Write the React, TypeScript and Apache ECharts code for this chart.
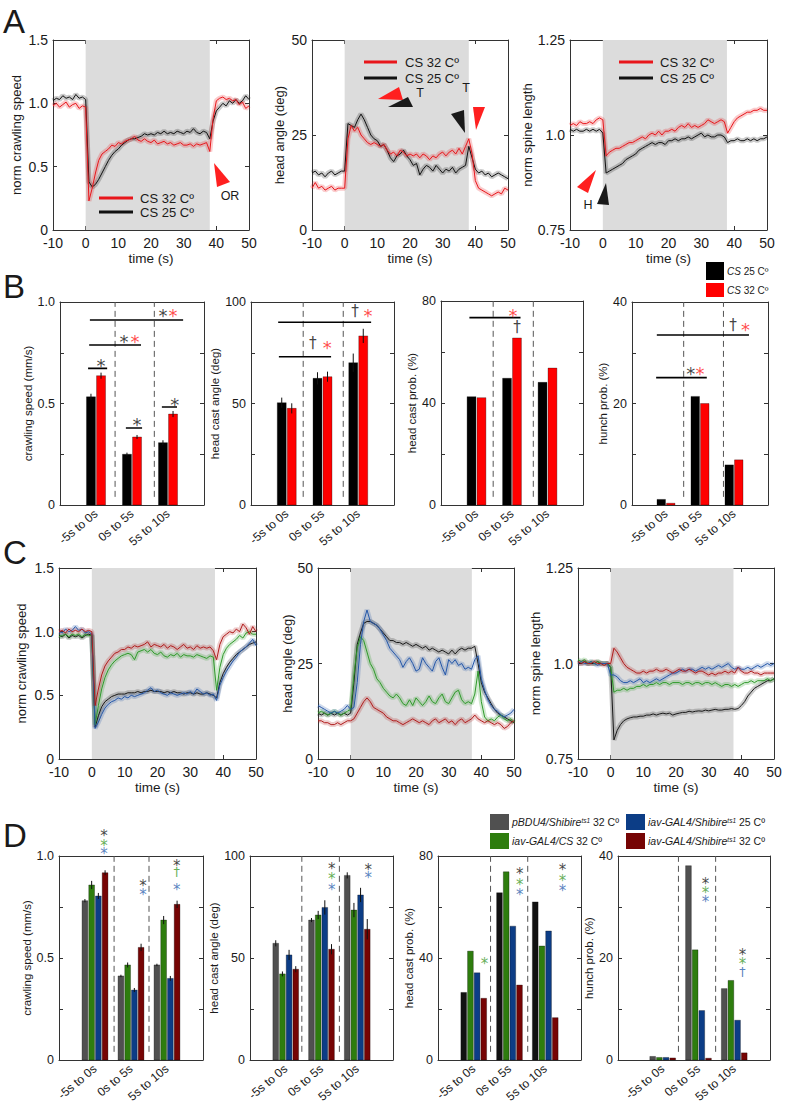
import React, { useEffect, useRef } from 'react';
import * as echarts from 'echarts';

const FONT = '"Liberation Sans", Arial, Helvetica, sans-serif';
const MARK_FONT = '"DejaVu Sans", "Liberation Sans", sans-serif';
const AX = '#333333';
const TX = '#1a1a1a';

// ---------- time series (A and C) ----------
const TIME = [-10,-9,-8,-7,-6,-5,-4,-3,-2,-1,0,1,2,3,4,5,6,7,8,9,10,11,12,13,14,15,16,17,18,19,20,21,22,23,24,25,26,27,28,29,30,31,32,33,34,35,36,37,38,39,40,41,42,43,44,45,46,47,48,49,50];
const STIM_A = [0, 38];
const STIM_C = [0, 37.5];

const A_SPEED_32 = [0.98,1.00,0.97,0.99,1.01,0.97,0.99,1.00,0.96,0.98, 0.97,0.23,0.33,0.45,0.55,0.60,0.62,0.64,0.67,0.66,0.69, 0.68,0.70,0.71,0.72,0.74,0.71,0.70,0.72,0.70,0.69, 0.71,0.68,0.69,0.70,0.68,0.69,0.67,0.68,0.69,0.67, 0.67,0.68,0.66,0.68,0.67,0.68,0.69,0.62,0.88,1.02, 1.04,1.05,1.03,1.04,1.02,1.03,0.99,1.01,0.96,0.98];
const A_SPEED_25 = [1.02,1.04,1.03,1.06,1.04,1.05,1.03,1.07,1.04,1.05, 1.03,0.38,0.34,0.36,0.40,0.45,0.50,0.55,0.59,0.62,0.64, 0.67,0.69,0.71,0.72,0.72,0.73,0.74,0.76,0.75,0.76, 0.75,0.77,0.76,0.78,0.76,0.77,0.76,0.78,0.77,0.76, 0.78,0.77,0.80,0.77,0.76,0.78,0.77,0.72,0.86,0.94, 0.97,1.00,0.98,1.02,1.00,1.03,1.00,1.02,1.06,1.03];
const A_ANGLE_32 = [11,12.5,11,11.5,10.5,11,11.5,10.5,11,11, 11,24,27.5,26,27,25,24,23,22.5,23,22.5, 22,22.5,21,20,20.5,19.5,21,20.5,19.5,20, 19.5,20,19,20,19.5,18.5,19.5,19,20,20.5, 19.5,20.5,21,20,21.5,20,22,24,20,13, 11,10.5,10,9.5,9,9.5,10,9.5,11,10.5];
const A_ANGLE_25 = [15,15.5,14.5,15,14,15,15.5,14.5,15,15.5, 15.5,28,27.5,27,29,30.5,29,27,25,24,23.5, 22,22.5,21,19,18,19.5,20,21,19.5,18.5, 17,17.5,14.5,16,17,16.5,15.5,17,16,15, 16,15.5,16.5,15,16,16.5,17,22,19,16, 15,15.5,14.5,15,14,14.5,15,14.5,14,13.5];
const A_SPINE_32 = [1.025,1.03,1.025,1.035,1.03,1.03,1.035,1.03,1.04,1.045, 1.04,0.945,0.955,0.96,0.965,0.965,0.97,0.975,0.98,0.98,0.985, 0.99,0.995,0.99,1.0,1.005,1.0,1.01,1.0,1.01,1.01, 1.015,1.01,1.02,1.025,1.02,1.03,1.02,1.025,1.02,1.025, 1.03,1.04,1.035,1.03,1.035,1.04,1.035,1.005,1.02,1.035, 1.045,1.05,1.055,1.06,1.06,1.065,1.065,1.07,1.065,1.065];
const A_SPINE_25 = [1.015,1.01,1.015,1.01,1.01,1.015,1.01,1.015,1.01,1.015, 1.005,0.90,0.905,0.91,0.915,0.92,0.925,0.935,0.94,0.945,0.95, 0.96,0.965,0.97,0.975,0.98,0.975,0.98,0.98,0.975,0.985, 0.985,0.99,0.985,0.99,0.99,0.995,0.99,0.995,1.0,1.005, 0.995,1.0,0.995,0.995,1.0,1.0,0.995,0.98,0.985,0.985, 0.99,0.985,0.985,0.99,0.985,0.99,0.985,0.99,0.99,0.995];

const C_SPEED_PBDU = [0.97,0.96,0.98,0.95,0.97,0.96,0.97,0.95,0.97,0.98, 0.97,0.25,0.34,0.41,0.45,0.47,0.49,0.50,0.51,0.51,0.51, 0.52,0.52,0.52,0.53,0.52,0.53,0.53,0.54,0.53,0.53, 0.53,0.52,0.53,0.52,0.53,0.52,0.52,0.51,0.52,0.52, 0.51,0.52,0.51,0.51,0.52,0.51,0.50,0.48,0.60,0.67, 0.72,0.76,0.79,0.82,0.84,0.86,0.88,0.90,0.91,0.92];
const C_SPEED_CS32 = [0.96,0.97,0.98,0.96,0.98,0.97,0.98,0.96,0.98,0.97, 0.97,0.27,0.42,0.55,0.64,0.70,0.74,0.77,0.79,0.81,0.82, 0.83,0.82,0.78,0.84,0.85,0.86,0.84,0.86,0.83,0.82, 0.84,0.81,0.80,0.82,0.81,0.83,0.80,0.82,0.81,0.81, 0.80,0.82,0.81,0.80,0.79,0.81,0.80,0.54,0.72,0.82, 0.87,0.90,0.92,0.94,0.97,0.95,0.99,1.0,0.98,0.98];
const C_SPEED_SHI25 = [1.0,0.99,1.02,1.0,1.01,1.04,1.01,1.02,0.99,1.0, 0.98,0.24,0.29,0.35,0.40,0.43,0.45,0.46,0.48,0.47,0.49, 0.48,0.50,0.49,0.50,0.51,0.52,0.54,0.56,0.53,0.54, 0.52,0.51,0.50,0.52,0.51,0.50,0.51,0.52,0.51,0.53, 0.51,0.55,0.53,0.51,0.52,0.50,0.51,0.46,0.58,0.64, 0.69,0.73,0.77,0.80,0.84,0.86,0.88,0.91,0.94,0.89];
const C_SPEED_SHI32 = [1.0,1.01,0.99,1.02,1.0,1.01,1.0,1.02,1.0,1.01, 1.0,0.42,0.55,0.66,0.73,0.77,0.80,0.83,0.84,0.86,0.86, 0.88,0.87,0.89,0.88,0.89,0.90,0.92,0.88,0.90,0.89, 0.88,0.90,0.87,0.89,0.88,0.86,0.88,0.90,0.87,0.88, 0.86,0.89,0.87,0.88,0.87,0.88,0.85,0.78,0.90,0.96, 0.98,1.0,0.99,1.02,1.0,1.06,1.03,0.98,1.04,1.0];

const C_ANGLE_PBDU = [12,11.5,12,11.5,12,11.5,12,11.5,12,11.5, 12,20,30,33,35.5,36,36,35.5,35,34,33, 32,31,31,30.5,30.5,30,30.5,30,29.5,30, 29.5,29,29.5,28.5,29,28.5,28,28.5,28,27.5, 28.5,27.5,28.5,29,28.5,29,29,29.5,25,20, 17.5,16,14.5,13,12,11.5,11,10.5,10,9.5];
const C_ANGLE_CS32 = [12,12.5,12,11.5,12,12.5,12,11.5,12,12.5, 13,22,29,32,31,28,25,23.5,21,20,18.5, 17.5,16.5,16,17,16,14.5,14,15.5,14,16, 15,14,15,16.5,15,14.5,16,17,15,14.5, 16,17.5,18,15.5,14.5,15,14.5,17,23,15, 11,10,10.5,10,11,11.5,10.5,10,10.5,9.5];
const C_ANGLE_SHI25 = [14,13.5,13,12.5,12,12.5,12,12.5,13,14, 13,13.5,20,30,36,39,36,35.5,35,34,32.5, 31,29,28,27,26,24,25.5,26.5,25,23, 23.5,26.5,25,24,23,25.5,26.5,24,22,26, 25,26,24.5,25,23.5,24,23.5,26,27,21, 18,15.5,14,13,12.5,11.5,11,11.5,12,13];
const C_ANGLE_SHI32 = [10,10,9.5,9.5,9,9,9.5,9,9.5,10, 10,10.5,12,13.5,15,16,15,13.5,13,12.5,12, 11,10.5,10,10,9.5,9,9.5,10,10.5,10, 9.5,10,9.5,9,10,10.5,9.5,10,10.5,9.5, 10,9,10,10.5,9.5,10,10.5,11.5,10.5,10, 9.5,10,9.5,9,9.5,9,8,8.5,9.5,10];

const C_SPINE_PBDU = [1.0,1.0,1.005,1.0,1.0,1.0,1.005,1.0,1.0,1.0, 0.99,0.80,0.825,0.84,0.85,0.855,0.858,0.86,0.86,0.862,0.862, 0.865,0.865,0.868,0.865,0.868,0.87,0.868,0.87,0.865,0.868, 0.87,0.872,0.872,0.875,0.873,0.875,0.876,0.875,0.878,0.876, 0.878,0.88,0.878,0.878,0.88,0.88,0.882,0.88,0.882,0.89, 0.9,0.915,0.925,0.935,0.94,0.945,0.95,0.955,0.955,0.96];
const C_SPINE_CS32 = [1.01,1.005,1.01,1.0,1.005,1.0,1.005,1.0,1.0,1.0, 0.99,0.925,0.93,0.93,0.935,0.93,0.935,0.935,0.94,0.94,0.945, 0.94,0.945,0.945,0.95,0.945,0.95,0.95,0.945,0.95,0.95, 0.95,0.945,0.95,0.95,0.945,0.95,0.95,0.945,0.95,0.95, 0.945,0.95,0.945,0.94,0.945,0.945,0.94,0.945,0.94,0.945, 0.95,0.95,0.955,0.95,0.955,0.955,0.955,0.96,0.955,0.96];
const C_SPINE_SHI25 = [1.0,1.005,1.0,1.0,1.005,1.0,0.995,1.0,1.0,1.0, 0.97,0.97,0.965,0.955,0.95,0.95,0.955,0.95,0.955,0.96,0.95, 0.955,0.95,0.955,0.96,0.955,0.96,0.965,0.97,0.975,0.975, 0.98,0.985,0.98,0.985,0.985,0.98,0.985,0.99,0.985,0.99, 0.985,0.99,0.995,0.99,0.995,1.0,0.99,0.985,0.99,0.985, 0.985,0.99,0.985,0.99,0.995,0.99,0.995,1.0,0.995,1.0];
const C_SPINE_SHI32 = [1.005,1.0,1.005,1.0,1.0,1.005,1.0,1.0,0.995,1.0, 1.0,1.04,1.03,1.015,1.0,0.99,0.985,0.98,0.975,0.975,0.98, 0.975,0.98,0.98,0.985,0.98,0.98,0.985,0.98,0.975,0.98, 0.985,0.98,0.98,0.985,0.98,0.975,0.98,0.98,0.975,0.97, 0.975,0.97,0.975,0.975,0.98,0.975,0.98,0.975,0.99,0.98, 0.975,0.975,0.98,0.975,0.975,0.97,0.975,0.975,0.975,0.975];

// ---------- bar data (B and D) ----------
const GROUP_X = [1, 2, 3];
const BAR_CATEGORIES = ['-5s to 0s', '0s to 5s', '5s to 10s'];

const B1_CS25 = [0.533, 0.25, 0.307];   const B1_CS25_ERR = [0.015, 0.008, 0.012];
const B1_CS32 = [0.637, 0.335, 0.448];  const B1_CS32_ERR = [0.015, 0.01, 0.015];
const B2_CS25 = [50.4, 62.4, 70.1];     const B2_CS25_ERR = [2.5, 3, 4.5];
const B2_CS32 = [47.6, 63.2, 83.3];     const B2_CS32_ERR = [2.5, 2.5, 3.5];
const B3_CS25 = [42.5, 49.7, 48.1];
const B3_CS32 = [42.1, 65.5, 53.7];
const B4_CS25 = [1.1, 21.4, 7.9];
const B4_CS32 = [0.35, 20.0, 8.9];

const D1_PBDU = [0.781, 0.412, 0.466];  const D1_PBDU_ERR = [0.008, 0.006, 0.006];
const D1_CS32 = [0.858, 0.466, 0.686];  const D1_CS32_ERR = [0.02, 0.012, 0.02];
const D1_SHI25 = [0.804, 0.343, 0.40];  const D1_SHI25_ERR = [0.015, 0.01, 0.012];
const D1_SHI32 = [0.918, 0.552, 0.763]; const D1_SHI32_ERR = [0.012, 0.018, 0.018];
const D2_PBDU = [57.2, 68.6, 90.5];     const D2_PBDU_ERR = [1.5, 1, 1.5];
const D2_CS32 = [42.2, 71.1, 73.5];     const D2_CS32_ERR = [1.2, 2, 3.5];
const D2_SHI25 = [51.5, 74.8, 80.9];    const D2_SHI25_ERR = [2.5, 3.5, 3.5];
const D2_SHI32 = [44.5, 54.3, 64.1];    const D2_SHI32_ERR = [1.5, 2.5, 5];
const D3_PBDU = [26.5, 65.6, 62];
const D3_CS32 = [42.7, 73.8, 44.7];
const D3_SHI25 = [34.2, 52.5, 50.6];
const D3_SHI32 = [24.2, 29.4, 16.6];
const D4_PBDU = [0.7, 38.1, 14];
const D4_CS32 = [0.5, 21.6, 15.6];
const D4_SHI25 = [0.5, 9.7, 7.8];
const D4_SHI32 = [0.4, 0.35, 1.4];

// dashed separators (x positions)
const B1_SEP = [1.53, 2.62]; const B2_SEP = [1.46, 2.58]; const B3_SEP = [1.47, 2.6]; const B4_SEP = [1.52, 2.69];
const D1_SEP = [1.53, 2.5];  const D2_SEP = [1.45, 2.5];  const D3_SEP = [1.47, 2.51]; const D4_SEP = [1.44, 2.48];

// significance bars [x1, x2, y]
const B1_SIG = [[0.78, 1.31, 0.673], [1.83, 2.28, 0.379], [2.83, 3.25, 0.483], [0.81, 2.25, 0.788], [0.83, 3.42, 0.911]];
const B2_SIG = [[0.78, 2.24, 73], [0.76, 3.36, 90]];
const B3_SIG = [[0.8, 2.24, 73.5]];
const B4_SIG = [[0.71, 2.2, 25.1], [0.73, 3.44, 33.5]];

// significance marks
const K = '#111111', R = '#ff2020', G = '#3d9a2c', BL = '#2f64b0';
const B1_MARKS = [[1.14, 0.709, '*', K], [2.14, 0.419, '*', K], [3.19, 0.517, '*', K], [1.78, 0.828, '*', K], [2.08, 0.828, '*', R], [2.86, 0.956, '*', K], [3.14, 0.956, '*', R]];
const B2_MARKS = [[1.73, 79.8, '†', K], [2.13, 79.8, '*', R], [2.91, 95.6, '†', K], [3.27, 95.6, '*', R]];
const B3_MARKS = [[2.03, 76.2, '*', R], [2.14, 69.8, '†', K]];
const B4_MARKS = [[1.73, 26.7, '*', K], [2.0, 26.7, '*', R], [2.97, 35.5, '†', K], [3.34, 35.5, '*', R]];
const D1_MARKS = [[1.25, 1.114, '*', K], [1.25, 1.069, '*', G], [1.25, 1.026, '*', BL], [2.33, 0.869, '*', K], [2.33, 0.825, '*', BL], [3.27, 0.967, '*', K], [3.27, 0.923, '†', G], [3.27, 0.85, '*', BL]];
const D2_MARKS = [[2.29, 95.6, '*', K], [2.29, 90.7, '*', G], [2.29, 85, '*', BL], [3.31, 95.1, '*', K], [3.31, 91, '*', BL]];
const D3_MARKS = [[1.3, 39.2, '*', G], [2.29, 74.2, '*', K], [2.29, 70.2, '*', G], [2.29, 66, '*', BL], [3.48, 75.8, '*', K], [3.48, 71.6, '*', G], [3.48, 67.6, '*', BL]];
const D4_MARKS = [[2.2, 35.3, '*', K], [2.2, 33.5, '*', G], [2.2, 31.6, '*', BL], [3.23, 21.2, '*', K], [3.23, 19.6, '*', G], [3.23, 17.3, '†', BL]];

// tick labels
const SPEED_TICKS = [[0, '0'], [0.5, '0.5'], [1, '1.0'], [1.5, '1.5']];
const ANGLE_TICKS = [[0, '0'], [25, '25'], [50, '50']];
const SPINE_TICKS = [[0.75, '0.75'], [1, '1.0'], [1.25, '1.25']];
const BSPEED_TICKS = [[0, '0'], [0.5, '0.5'], [1, '1.0']];
const BANGLE_TICKS = [[0, '0'], [50, '50'], [100, '100']];
const BCAST_TICKS = [[0, '0'], [40, '40'], [80, '80']];
const BHUNCH_TICKS = [[0, '0'], [20, '20'], [40, '40']];

// colours
const A_RED = '#e8161b', A_BLACK = '#111111';
const C_BLACK = '#1a1a1a', C_GREEN = '#2f9a2a', C_BLUE = '#2457a8', C_RED = '#b01c1c';
const D_GRAY = '#505050', D_GREEN = '#2e7d0e', D_BLUE = '#0c3d86', D_RED = '#760404';

function fmtFrom(ticks: any[]) {
  return (v: number) => {
    const f = ticks.find((t) => Math.abs(t[0] - v) < 1e-9);
    return f ? f[1] : '';
  };
}

function buildOption() {
  const grid: any[] = [];
  const xAxis: any[] = [];
  const yAxis: any[] = [];
  const series: any[] = [];

  const tick = { show: true, inside: true, length: 4, lineStyle: { color: AX, width: 1 } };
  const line = { show: true, onZero: false, lineStyle: { color: AX, width: 1 } };

  function panel(p: any) {
    const gi = grid.length;
    grid.push({ left: p.rect[0], top: p.rect[1], width: p.rect[2], height: p.rect[3] });
    const xi = xAxis.length;
    const xBase: any = { gridIndex: gi, type: 'value', min: p.xMin, max: p.xMax, splitLine: { show: false } };
    if (p.xInterval) xBase.interval = p.xInterval;
    xAxis.push({
      ...xBase, position: 'bottom', axisLine: line,
      axisTick: p.bar ? { show: false } : tick,
      axisLabel: p.bar
        ? { show: true, rotate: 40, margin: 7, fontSize: 12, color: TX, fontFamily: FONT,
            formatter: (v: number) => { const i = GROUP_X.indexOf(v); return i >= 0 ? BAR_CATEGORIES[i] : ''; } }
        : { show: true, margin: 6, fontSize: 14, color: TX, fontFamily: FONT },
      name: p.xName || '', nameLocation: 'middle', nameGap: p.xNameGap || 20,
      nameTextStyle: { fontSize: 13.5, color: TX, fontFamily: FONT },
    });
    xAxis.push({ ...xBase, position: 'top', axisLine: line, axisTick: p.bar ? { show: false } : tick, axisLabel: { show: false } });
    const yi = yAxis.length;
    const yBase: any = { gridIndex: gi, type: 'value', min: p.yMin, max: p.yMax, interval: p.yInterval, splitLine: { show: false } };
    yAxis.push({
      ...yBase, position: 'left', axisLine: line, axisTick: tick,
      axisLabel: { show: true, margin: 5, fontSize: p.bar ? 12.5 : 14, color: TX, fontFamily: FONT, formatter: fmtFrom(p.yTicks) },
      name: p.yName, nameLocation: 'middle', nameGap: p.yNameGap,
      nameTextStyle: { fontSize: p.bar ? 11.5 : 13, color: TX, fontFamily: FONT },
    });
    yAxis.push({ ...yBase, position: 'right', axisLine: line, axisTick: tick, axisLabel: { show: false } });
    return { xi, yi };
  }

  function linePanel(p: any) {
    const { xi, yi } = panel({ ...p, xMin: -10, xMax: 50, xInterval: 10, xName: 'time (s)', xNameGap: 21 });
    series.push({
      type: 'line', xAxisIndex: xi, yAxisIndex: yi, data: [], z: 1, silent: true,
      markArea: { silent: true, itemStyle: { color: '#dcdcdc' }, data: [[{ xAxis: p.stim[0] }, { xAxis: p.stim[1] }]] },
    });
    p.curves.forEach((c: any) => {
      series.push({
        type: 'line', xAxisIndex: xi, yAxisIndex: yi, z: 2, silent: true, symbol: 'none',
        data: TIME.map((t, i) => [t, c.data[i]]),
        lineStyle: { color: c.color, width: 5, opacity: 0.22 },
      });
    });
    p.curves.forEach((c: any) => {
      series.push({
        type: 'line', xAxisIndex: xi, yAxisIndex: yi, z: 3, silent: true, symbol: 'none',
        data: TIME.map((t, i) => [t, c.data[i]]),
        lineStyle: { color: c.color, width: 1 },
      });
    });
  }

  function barPanel(p: any) {
    const { xi, yi } = panel({ ...p, bar: true });
    p.sep.forEach((x: number) => {
      series.push({
        type: 'line', xAxisIndex: xi, yAxisIndex: yi, z: 2, silent: true, symbol: 'none',
        data: [[x, p.yMin + (p.yMax - p.yMin) * 0.04], [x, p.yMax]],
        lineStyle: { color: '#555', width: 1, type: [6, 4] },
      });
    });
    p.bars.forEach((b: any) => {
      series.push({
        type: 'custom', xAxisIndex: xi, yAxisIndex: yi, z: 3, silent: true,
        data: GROUP_X.map((g, i) => [g, b.values[i], b.err ? b.err[i] : 0]),
        renderItem: (params: any, api: any) => {
          const x = api.value(0) + b.offset;
          const v = api.value(1);
          const e = api.value(2);
          const bl = api.coord([x - p.barW / 2, 0]);
          const tr = api.coord([x + p.barW / 2, v]);
          const children: any[] = [{
            type: 'rect',
            shape: { x: bl[0], y: tr[1], width: tr[0] - bl[0], height: bl[1] - tr[1] },
            style: { fill: b.color, stroke: 'rgba(0,0,0,0.5)', lineWidth: 0.6 },
          }];
          if (e > 0) {
            const a = api.coord([x, v + e]);
            const c = api.coord([x, v - e]);
            children.push({ type: 'line', shape: { x1: a[0], y1: a[1], x2: c[0], y2: c[1] }, style: { stroke: '#111', lineWidth: 1 } });
          }
          return { type: 'group', children };
        },
      });
    });
    (p.sig || []).forEach((s: number[]) => {
      series.push({
        type: 'line', xAxisIndex: xi, yAxisIndex: yi, z: 4, silent: true, symbol: 'none',
        data: [[s[0], s[2]], [s[1], s[2]]],
        lineStyle: { color: '#000', width: 1.6 },
      });
    });
    series.push({
      type: 'scatter', xAxisIndex: xi, yAxisIndex: yi, z: 5, silent: true, clip: false,
      symbolSize: 1, itemStyle: { color: 'rgba(0,0,0,0)' },
      data: p.marks.map((m: any[]) => {
        const star = m[2] === '*';
        const size = star ? p.markSize : p.markSize * 0.85;
        return {
          value: [m[0], m[1]],
          label: {
            show: true, position: 'inside', formatter: m[2], color: m[3],
            fontSize: size, fontFamily: MARK_FONT, lineHeight: size * 0.6,
            offset: [0, star ? size * 0.24 : 0],
          },
        };
      }),
    });
  }

  // ----- Row A -----
  linePanel({ rect: [53, 40, 196, 190], yMin: 0, yMax: 1.5, yInterval: 0.5, yTicks: SPEED_TICKS, yName: 'norm crawling speed', yNameGap: 30, stim: STIM_A,
    curves: [{ data: A_SPEED_25, color: A_BLACK }, { data: A_SPEED_32, color: A_RED }] });
  linePanel({ rect: [312, 40, 196, 190], yMin: 0, yMax: 50, yInterval: 25, yTicks: ANGLE_TICKS, yName: 'head angle (deg)', yNameGap: 26, stim: STIM_A,
    curves: [{ data: A_ANGLE_25, color: A_BLACK }, { data: A_ANGLE_32, color: A_RED }] });
  linePanel({ rect: [570, 40, 197, 190], yMin: 0.75, yMax: 1.25, yInterval: 0.25, yTicks: SPINE_TICKS, yName: 'norm spine length', yNameGap: 26, stim: [0, 37.8],
    curves: [{ data: A_SPINE_25, color: A_BLACK }, { data: A_SPINE_32, color: A_RED }] });

  // ----- Row B -----
  const bB = (v: any, err: any, color: string, offset: number) => ({ values: v, err, color, offset });
  barPanel({ rect: [60, 302, 144, 203], xMin: 0, xMax: 4, xInterval: 1, yMin: 0, yMax: 1, yInterval: 0.25, yTicks: BSPEED_TICKS,
    yName: 'crawling speed (mm/s)', yNameGap: 24, barW: 0.25, sep: B1_SEP, sig: B1_SIG, marks: B1_MARKS, markSize: 18,
    bars: [bB(B1_CS25, B1_CS25_ERR, '#000000', -0.14), bB(B1_CS32, B1_CS32_ERR, '#ff0000', 0.14)] });
  barPanel({ rect: [251, 302, 143, 203], xMin: 0, xMax: 4, xInterval: 1, yMin: 0, yMax: 100, yInterval: 25, yTicks: BANGLE_TICKS,
    yName: 'head cast angle (deg)', yNameGap: 21, barW: 0.25, sep: B2_SEP, sig: B2_SIG, marks: B2_MARKS, markSize: 18,
    bars: [bB(B2_CS25, B2_CS25_ERR, '#000000', -0.14), bB(B2_CS32, B2_CS32_ERR, '#ff0000', 0.14)] });
  barPanel({ rect: [441, 301, 142, 204], xMin: 0, xMax: 4, xInterval: 1, yMin: 0, yMax: 80, yInterval: 20, yTicks: BCAST_TICKS,
    yName: 'head cast prob. (%)', yNameGap: 22, barW: 0.25, sep: B3_SEP, sig: B3_SIG, marks: B3_MARKS, markSize: 18,
    bars: [bB(B3_CS25, null, '#000000', -0.14), bB(B3_CS32, null, '#ff0000', 0.14)] });
  barPanel({ rect: [632, 302, 136, 203], xMin: 0, xMax: 4, xInterval: 1, yMin: 0, yMax: 40, yInterval: 10, yTicks: BHUNCH_TICKS,
    yName: 'hunch prob. (%)', yNameGap: 19, barW: 0.25, sep: B4_SEP, sig: B4_SIG, marks: B4_MARKS, markSize: 18,
    bars: [bB(B4_CS25, null, '#000000', -0.14), bB(B4_CS32, null, '#ff0000', 0.14)] });

  // ----- Row C -----
  linePanel({ rect: [59, 568, 197, 191], yMin: 0, yMax: 1.5, yInterval: 0.5, yTicks: SPEED_TICKS, yName: 'norm crawling speed', yNameGap: 31, stim: STIM_C,
    curves: [{ data: C_SPEED_PBDU, color: C_BLACK }, { data: C_SPEED_CS32, color: C_GREEN }, { data: C_SPEED_SHI25, color: C_BLUE }, { data: C_SPEED_SHI32, color: C_RED }] });
  linePanel({ rect: [318, 568, 196, 191], yMin: 0, yMax: 50, yInterval: 25, yTicks: ANGLE_TICKS, yName: 'head angle (deg)', yNameGap: 22, stim: [0, 37.1],
    curves: [{ data: C_ANGLE_PBDU, color: C_BLACK }, { data: C_ANGLE_CS32, color: C_GREEN }, { data: C_ANGLE_SHI25, color: C_BLUE }, { data: C_ANGLE_SHI32, color: C_RED }] });
  linePanel({ rect: [578, 568, 196, 191], yMin: 0.75, yMax: 1.25, yInterval: 0.25, yTicks: SPINE_TICKS, yName: 'norm spine length', yNameGap: 32, stim: [0, 37.6],
    curves: [{ data: C_SPINE_PBDU, color: C_BLACK }, { data: C_SPINE_CS32, color: C_GREEN }, { data: C_SPINE_SHI25, color: C_BLUE }, { data: C_SPINE_SHI32, color: C_RED }] });

  // ----- Row D -----
  const offs = [-0.28, -0.093, 0.093, 0.28];
  barPanel({ rect: [59, 856, 144, 204], xMin: 0, xMax: 4, xInterval: 1, yMin: 0, yMax: 1, yInterval: 0.25, yTicks: BSPEED_TICKS,
    yName: 'crawling speed (mm/s)', yNameGap: 22, barW: 0.16, sep: D1_SEP, marks: D1_MARKS, markSize: 15,
    bars: [bB(D1_PBDU, D1_PBDU_ERR, D_GRAY, offs[0]), bB(D1_CS32, D1_CS32_ERR, D_GREEN, offs[1]), bB(D1_SHI25, D1_SHI25_ERR, D_BLUE, offs[2]), bB(D1_SHI32, D1_SHI32_ERR, D_RED, offs[3])] });
  barPanel({ rect: [250, 856, 143, 204], xMin: 0, xMax: 4, xInterval: 1, yMin: 0, yMax: 100, yInterval: 25, yTicks: BANGLE_TICKS,
    yName: 'head cast angle (deg)', yNameGap: 20, barW: 0.16, sep: D2_SEP, marks: D2_MARKS, markSize: 15,
    bars: [bB(D2_PBDU, D2_PBDU_ERR, D_GRAY, offs[0]), bB(D2_CS32, D2_CS32_ERR, D_GREEN, offs[1]), bB(D2_SHI25, D2_SHI25_ERR, D_BLUE, offs[2]), bB(D2_SHI32, D2_SHI32_ERR, D_RED, offs[3])] });
  barPanel({ rect: [438, 856, 143, 204], xMin: 0, xMax: 4, xInterval: 1, yMin: 0, yMax: 80, yInterval: 20, yTicks: BCAST_TICKS,
    yName: 'head cast prob. (%)', yNameGap: 20, barW: 0.16, sep: D3_SEP, marks: D3_MARKS, markSize: 15,
    bars: [bB(D3_PBDU, null, '#111111', offs[0]), bB(D3_CS32, null, D_GREEN, offs[1]), bB(D3_SHI25, null, D_BLUE, offs[2]), bB(D3_SHI32, null, D_RED, offs[3])] });
  barPanel({ rect: [618, 856, 152, 204], xMin: -0.25, xMax: 4, yMin: 0, yMax: 40, yInterval: 10, yTicks: BHUNCH_TICKS,
    yName: 'hunch prob. (%)', yNameGap: 12, barW: 0.16, sep: D4_SEP, marks: D4_MARKS, markSize: 15,
    bars: [bB(D4_PBDU, null, D_GRAY, offs[0]), bB(D4_CS32, null, D_GREEN, offs[1]), bB(D4_SHI25, null, D_BLUE, offs[2]), bB(D4_SHI32, null, D_RED, offs[3])] });

  // ----- graphics: panel letters, legends, arrowheads -----
  const txt = (x: number, y: number, text: string, size: number, extra: any = {}) => ({
    type: 'text', x, y, z: 10,
    style: { text, fill: TX, fontSize: size, fontFamily: FONT, align: 'left', verticalAlign: 'middle', ...extra },
  });
  const seg = (x1: number, y1: number, x2: number, y2: number, color: string) => ({
    type: 'line', z: 10, shape: { x1, y1, x2, y2 }, style: { stroke: color, lineWidth: 3 },
  });
  const tri = (pts: number[][], color: string) => ({ type: 'polygon', z: 10, shape: { points: pts }, style: { fill: color } });
  const sq = (x: number, y: number, w: number, h: number, color: string) => ({ type: 'rect', z: 10, shape: { x, y, width: w, height: h }, style: { fill: color } });

  const graphic: any[] = [
    txt(3, 21, 'A', 33), txt(3, 286, 'B', 33), txt(3, 552, 'C', 33), txt(3, 835, 'D', 33),
    // A1 legend
    seg(99, 198, 133, 198, A_RED), txt(140, 198, 'CS 32 Cº', 13),
    seg(99, 212, 133, 212, A_BLACK), txt(140, 212, 'CS 25 Cº', 13),
    tri([[214, 163], [230, 182], [217, 187]], '#ff2020'), txt(230, 196, 'OR', 12.5, { align: 'center' }),
    // A2 legend
    seg(364, 62, 397, 62, A_RED), txt(405, 62, 'CS 32 Cº', 13),
    seg(364, 78, 397, 78, A_BLACK), txt(405, 78, 'CS 25 Cº', 13),
    tri([[378, 99], [399, 87], [403, 100]], '#ff2020'),
    tri([[388, 107], [408, 97], [413, 107]], '#1a1a1a'),
    txt(420, 93, 'T', 12.5, { align: 'center' }),
    txt(466, 88, 'T', 12.5, { align: 'center' }),
    tri([[451, 114], [464, 110], [465, 133]], '#1a1a1a'),
    tri([[473, 107], [485, 107], [476, 130]], '#ff2020'),
    // A3 legend
    seg(619, 62, 653, 62, A_RED), txt(660, 62, 'CS 32 Cº', 13),
    seg(619, 78, 653, 78, A_BLACK), txt(660, 78, 'CS 25 Cº', 13),
    tri([[577, 187], [596, 170], [588, 193]], '#ff2020'),
    tri([[597, 204], [606, 183], [609, 205]], '#1a1a1a'),
    txt(588, 205, 'H', 12.5, { align: 'center' }),
    // B legend
    sq(706, 262, 18, 18, '#000000'), sq(706, 283, 18, 14, '#ff0000'),
    txt(727, 271, '{i|CS} 25 Cº', 10, { rich: { i: { fontStyle: 'italic', fontSize: 10, fontFamily: FONT } } }),
    txt(727, 290, '{i|CS} 32 Cº', 10, { rich: { i: { fontStyle: 'italic', fontSize: 10, fontFamily: FONT } } }),
    // D legend
    sq(490, 814, 19, 16, D_GRAY), sq(490, 833, 19, 16, D_GREEN), sq(626, 814, 19, 16, D_BLUE), sq(626, 833, 19, 16, D_RED),
  ];
  const rich = {
    i: { fontStyle: 'italic', fontSize: 10.5, fontFamily: FONT, fill: TX },
    s: { fontStyle: 'italic', fontSize: 6.5, fontFamily: FONT, verticalAlign: 'top', fill: TX },
    n: { fontSize: 10.5, fontFamily: FONT, fill: TX },
  };
  graphic.push(txt(512, 822, '{i|pBDU4/Shibire}{s|ts1}{n| 32 Cº}', 10.5, { rich }));
  graphic.push(txt(512, 841, '{i|iav-GAL4/CS}{n| 32 Cº}', 10.5, { rich }));
  graphic.push(txt(648, 822, '{i|iav-GAL4/Shibire}{s|ts1}{n| 25 Cº}', 10.5, { rich }));
  graphic.push(txt(648, 841, '{i|iav-GAL4/Shibire}{s|ts1}{n| 32 Cº}', 10.5, { rich }));

  return {
    animation: false,
    backgroundColor: '#ffffff',
    textStyle: { fontFamily: FONT },
    grid, xAxis, yAxis, series, graphic,
  };
}

export default function App() {
  const ref = useRef<HTMLDivElement>(null);
  useEffect(() => {
    if (!ref.current) return;
    const chart = echarts.init(ref.current, undefined, { renderer: 'svg' });
    chart.setOption(buildOption() as any);
    return () => chart.dispose();
  }, []);
  return <div ref={ref} style={{ position: 'absolute', left: 0, top: 0, width: 786, height: 1114 }} />;
}
